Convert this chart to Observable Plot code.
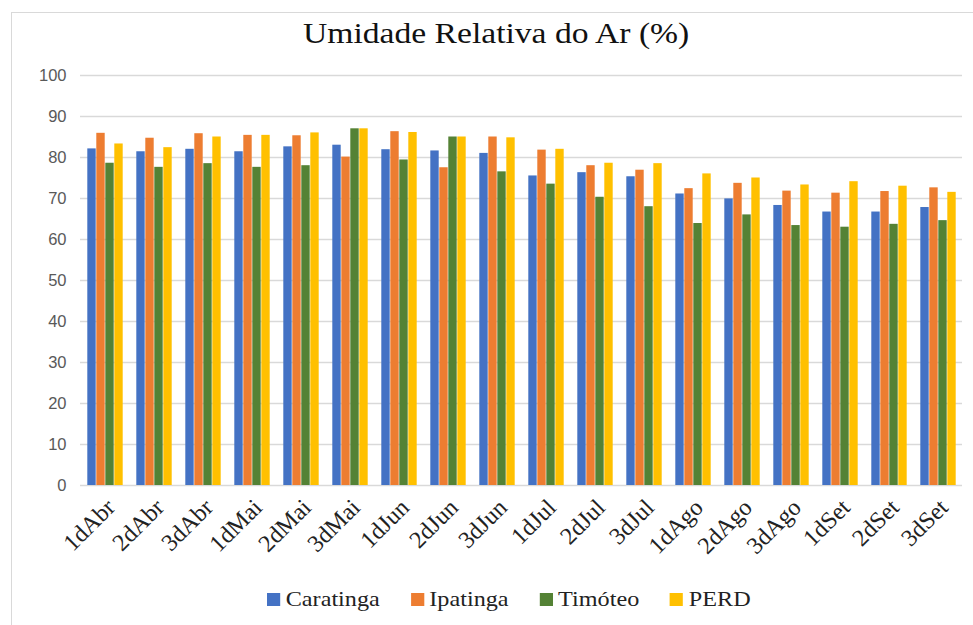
<!DOCTYPE html>
<html>
<head>
<meta charset="utf-8">
<script src="https://cdn.jsdelivr.net/npm/d3@7"></script>
<script src="https://cdn.jsdelivr.net/npm/@observablehq/plot@0.6"></script>
<style>
  html, body { margin: 0; padding: 0; background: #fff; }
  #root { position: relative; width: 973px; height: 625px; overflow: hidden; background: #fff; }
  #frame { position: absolute; left: 11px; top: 12px; right: -5px; bottom: -5px; border-left: 1px solid #d9d9d9; border-top: 1px solid #d9d9d9; }
  #title { position: absolute; left: 303px; top: 16px; white-space: nowrap; transform-origin: 0 0; transform: scaleX(1.12); font-family: 'Liberation Serif', serif; font-size: 30px; color: #111; }
  .layer { position: absolute; left: 0; top: 60px; }
  #legend { position: absolute; top: 586px; left: 267px; display: flex; align-items: center; white-space: nowrap; transform-origin: 0 0; transform: scaleX(1.1); font-family: 'Liberation Serif', serif; font-size: 22px; color: #222; }
  .item { display: flex; align-items: center; margin-right: 28px; }
  .sw { width: 12px; height: 13px; margin-right: 5px; }
</style>
</head>
<body>
<div id="root">
  <div id="frame"></div>
  <div id="title">Umidade Relativa do Ar (%)</div>
  <div id="grid" class="layer"></div>
  <div id="bars" class="layer"></div>
  <div id="legend"></div>
</div>
<script>
const periods = ["1dAbr","2dAbr","3dAbr","1dMai","2dMai","3dMai","1dJun","2dJun","3dJun","1dJul","2dJul","3dJul","1dAgo","2dAgo","3dAgo","1dSet","2dSet","3dSet"];
const series = ["Caratinga","Ipatinga","Timóteo","PERD"];
const colors = ["#4472C4","#ED7D31","#548235","#FFC000"];
const caratinga = [82.1,81.4,82.0,81.4,82.6,83.0,81.9,81.6,81.0,75.5,76.3,75.3,71.1,69.9,68.3,66.7,66.7,67.8];
const ipatinga  = [85.9,84.7,85.8,85.4,85.3,80.1,86.3,77.5,85.0,81.8,78.0,76.9,72.4,73.7,71.8,71.3,71.7,72.6];
const timoteo   = [78.6,77.6,78.5,77.6,78.0,87.0,79.4,85.0,76.5,73.5,70.3,68.0,63.9,66.0,63.4,63.0,63.7,64.6];
const perd      = [83.3,82.4,85.0,85.4,86.0,87.0,86.1,85.0,84.8,82.0,78.6,78.5,76.0,75.0,73.3,74.1,73.0,71.5];
const yTicks = [0,10,20,30,40,50,60,70,80,90,100];

const valuesBySeries = [caratinga, ipatinga, timoteo, perd];
const data = [];
periods.forEach((p, i) => series.forEach((s, j) => data.push({period: p, series: s, value: valuesBySeries[j][i]})));

const W = 973, H = 515, ML = 80, MR = 11, MT = 15, MB = 90;

// background layer: y axis and continuous gridlines
const grid = Plot.plot({
  width: W, height: H, marginLeft: ML, marginRight: MR, marginTop: MT, marginBottom: MB,
  style: {background: "transparent", fontFamily: "'Liberation Sans', Arial, sans-serif", fontSize: "16.5px", color: "#595959"},
  x: {axis: null, domain: [0, 1]},
  y: {domain: [0, 100], label: null},
  marks: [
    Plot.ruleY(yTicks, {stroke: "#d9d9d9", strokeWidth: 1.3}),
    Plot.axisY(yTicks, {tickSize: 0, tickPadding: 14, label: null, fill: "#595959"})
  ]
});
document.getElementById("grid").appendChild(grid);

// foreground layer: grouped bars
const bars = Plot.plot({
  width: W, height: H, marginLeft: ML, marginRight: MR, marginTop: MT, marginBottom: MB,
  style: {background: "transparent", fontFamily: "'Liberation Serif', serif", fontSize: "24px", color: "#222"},
  fx: {domain: periods, paddingInner: 0.21, paddingOuter: 0.07, label: null, axis: null},
  x: {domain: series, axis: null, padding: 0},
  y: {domain: [0, 100], axis: null},
  color: {domain: series, range: colors},
  marks: [
    Plot.barY(data, {fx: "period", x: "series", y: "value", fill: "series", insetLeft: 0.3, insetRight: 0.3}),
    Plot.axisFx({anchor: "bottom", tickRotate: -45, tickSize: 0, tickPadding: 18, label: null, dx: 6, fontSize: 24})
  ]
});
document.getElementById("bars").appendChild(bars);

const legend = document.getElementById("legend");
series.forEach((s, j) => {
  const it = document.createElement("div");
  it.className = "item";
  const sw = document.createElement("div");
  sw.className = "sw";
  sw.style.background = colors[j];
  const t = document.createElement("span");
  t.textContent = s;
  it.appendChild(sw); it.appendChild(t);
  legend.appendChild(it);
});
</script>
</body>
</html>
